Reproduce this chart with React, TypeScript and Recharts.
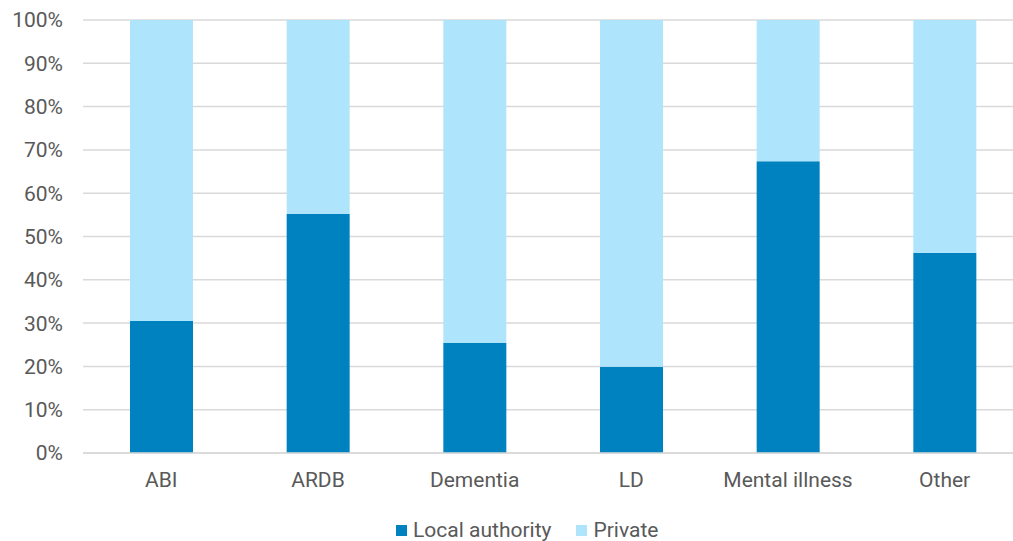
import { BarChart, Bar, XAxis, YAxis, CartesianGrid, Legend } from "recharts";

const categories = ["ABI", "ARDB", "Dementia", "LD", "Mental illness", "Other"];
const localAuthority = [30.5, 55.2, 25.4, 19.9, 67.4, 46.2];
const privateSector = [69.5, 44.8, 74.6, 80.1, 32.6, 53.8];
const yTicks = [0, 10, 20, 30, 40, 50, 60, 70, 80, 90, 100];

const DARK = "#0082c0";
const LIGHT = "#aee4fc";
const TEXT = "#595959";
const FONT = "Roboto, 'Noto Sans', sans-serif";
const FONT_SIZE = 21;

const data = categories.map((name, i) => ({
  name,
  local: localAuthority[i],
  private: privateSector[i],
}));

const legendItems = [
  { label: "Local authority", color: DARK },
  { label: "Private", color: LIGHT },
];

function LegendContent() {
  return (
    <div style={{ display: "flex", alignItems: "center", paddingLeft: 396, fontFamily: FONT, fontSize: FONT_SIZE, color: TEXT, lineHeight: "24px" }}>
      {legendItems.map((item, i) => (
        <div key={item.label} style={{ display: "flex", alignItems: "center", marginRight: i === 0 ? 25 : 0 }}>
          <span style={{ width: 11, height: 11, background: item.color, marginRight: 6, display: "inline-block" }} />
          <span>{item.label}</span>
        </div>
      ))}
    </div>
  );
}

export default function App() {
  return (
    <div style={{ position: "absolute", left: 0, top: 0, width: 1013, height: 541, overflow: "hidden", background: "#fff" }}>
      <BarChart
        width={1030}
        height={541}
        data={data}
        barCategoryGap="30%"
        margin={{ top: 20, right: 7, bottom: 0, left: 0 }}
      >
        <CartesianGrid vertical={false} stroke="#d9d9d9" strokeWidth={1.5} />
        <XAxis
          dataKey="name"
          height={50}
          axisLine={{ stroke: "#d9d9d9", strokeWidth: 1.5 }}
          tickLine={false}
          tickSize={0}
          tickMargin={19}
          interval={0}
          tick={{ fill: TEXT, fontSize: FONT_SIZE, fontFamily: FONT }}
        />
        <YAxis
          width={83}
          domain={[0, 100]}
          ticks={yTicks}
          axisLine={false}
          tickLine={false}
          tickSize={0}
          tickMargin={20}
          tickFormatter={(v) => `${v}%`}
          tick={{ fill: TEXT, fontSize: FONT_SIZE, fontFamily: FONT }}
        />
        <Legend
          verticalAlign="bottom"
          height={38}
          content={<LegendContent />}
          wrapperStyle={{ left: 0, width: 1013, top: 518 }}
        />
        <Bar dataKey="local" name="Local authority" stackId="a" fill={DARK} isAnimationActive={false} />
        <Bar dataKey="private" name="Private" stackId="a" fill={LIGHT} isAnimationActive={false} />
      </BarChart>
    </div>
  );
}
